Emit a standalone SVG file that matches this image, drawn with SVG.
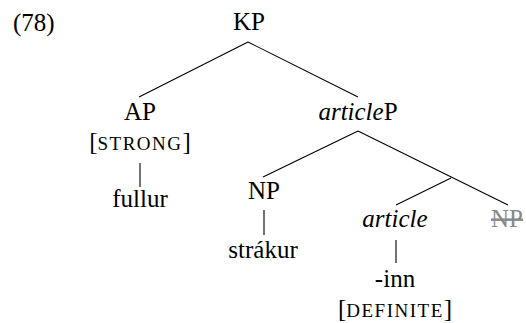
<svg xmlns="http://www.w3.org/2000/svg" width="526" height="323" viewBox="0 0 526 323">
<rect width="526" height="323" fill="#fff"/>
<g id="connectors" stroke="#000" stroke-width="1.1" fill="none">
<line x1="248" y1="42" x2="139" y2="97"/>
<line x1="248" y1="42" x2="358" y2="97"/>
<line x1="140" y1="163" x2="140" y2="187"/>
<line x1="358" y1="131" x2="263" y2="177"/>
<line x1="358" y1="131" x2="508" y2="205"/>
<line x1="451" y1="178" x2="396" y2="205"/>
<line x1="264" y1="210" x2="264" y2="235"/>
<line x1="396" y1="240" x2="396" y2="263"/>
</g>
<g font-family="Liberation Serif" font-size="25" fill="#000" text-anchor="middle">
<text x="13" y="31" text-anchor="start">(78)</text>
<g id="KP"><text x="249" y="30">KP</text></g>
<g id="AP"><text x="140" y="120">AP</text><text x="140" y="150">[<tspan font-size="19" letter-spacing="1.5">STRONG</tspan>]</text></g>
<g id="fullur"><text x="140" y="207">fullur</text></g>
<g id="articleP"><text x="358" y="120"><tspan font-style="italic">article</tspan>P</text></g>
<g id="NP"><text x="264" y="199">NP</text></g>
<g id="strakur"><text x="263" y="258">strákur</text></g>
<g id="article"><text x="395" y="227" font-style="italic">article</text></g>
<g id="inn"><text x="395" y="287">-inn</text><text x="395" y="317">[<tspan font-size="19" letter-spacing="1.5">DEFINITE</tspan>]</text></g>
<g id="NP2"><text x="507" y="227" fill="#888" text-decoration="line-through">NP</text></g>
</g>
</svg>
